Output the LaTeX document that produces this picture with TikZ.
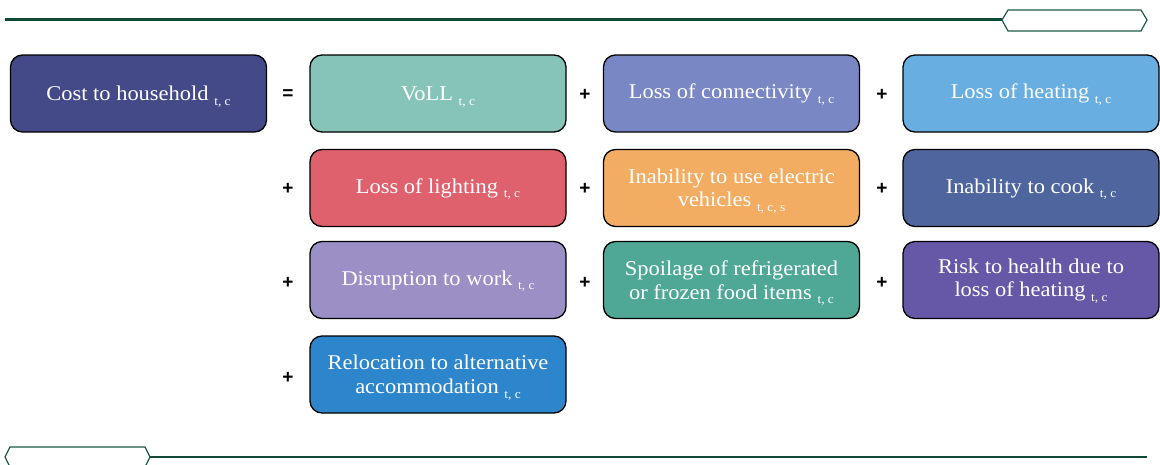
\documentclass[tikz,border=0pt]{standalone}
\usepackage{fontspec}
\setmainfont[FakeStretch=1.07]{Liberation Serif}
\newfontfamily\opfont{Liberation Sans}
% lowered index that does not change the size of its line
\newcommand{\subidx}[1]{\raisebox{-0.5ex}[0pt][0pt]{\fontsize{12.5}{13}\selectfont #1}}

\definecolor{rule}{HTML}{0E4A34}
\definecolor{tag}{HTML}{1E5C46}
\definecolor{cCost}{HTML}{434A87}
\definecolor{cVoll}{HTML}{86C4B8}
\definecolor{cConn}{HTML}{7987C4}
\definecolor{cHeat}{HTML}{69AEE0}
\definecolor{cLight}{HTML}{DE616D}
\definecolor{cEV}{HTML}{F2AD62}
\definecolor{cCook}{HTML}{4E659D}
\definecolor{cWork}{HTML}{9B8FC5}
\definecolor{cFood}{HTML}{4FA896}
\definecolor{cRisk}{HTML}{6658A6}
\definecolor{cReloc}{HTML}{2D86CC}

\tikzset{
  term/.style={draw=black, line width=1.3pt, rounded corners=12pt,
    minimum width=256pt, minimum height=77pt, align=center,
    text=white, font=\fontsize{21}{23.5}\selectfont, inner sep=2pt},
  op/.style={font=\opfont\bfseries\fontsize{19}{19}\selectfont, text=black, inner sep=0pt}
}

\begin{document}
\begin{tikzpicture}[x=1pt, y=-1pt]
\useasboundingbox (0,0) rectangle (1160,464);

% header rule with tag
\draw[rule, line width=2.2pt] (5,19.5) -- (1002,19.5);
\draw[tag, line width=1.2pt, fill=white] (1002,20) -- (1008,10) -- (1141,10) -- (1147,20) -- (1141,31) -- (1008,31) -- cycle;

% footer rule with tag
\draw[rule, line width=2.2pt] (150,457) -- (1147,457);
\draw[tag, line width=1.2pt, fill=white] (5,457) -- (10,447) -- (145,447) -- (150,457) -- (145,467) -- (10,467) -- cycle;

% left-hand side
\node[term, fill=cCost] (cost) at (138.5,93.5) {Cost to household \subidx{t, c}};
\node[op] (eq) at (288,95) {=};

% row 1
\node[term, fill=cVoll] (voll) at (438,93.5) {VoLL \subidx{t, c}};
\node[op] (p1) at (585,95) {+};
\node[term, fill=cConn] (conn) at (731.5,93.5) {Loss of connectivity \subidx{t, c}};
\node[op] (p2) at (882,95) {+};
\node[term, fill=cHeat] (heat) at (1031,93.5) {Loss of heating \subidx{t, c}};

% row 2
\node[op] (p3) at (288,189) {+};
\node[term, fill=cLight] (light) at (438,188) {Loss of lighting \subidx{t, c}};
\node[op] (p4) at (585,189) {+};
\node[term, fill=cEV] (ev) at (731.5,188) {Inability to use electric\\vehicles \subidx{t, c, s}};
\node[op] (p5) at (882,189) {+};
\node[term, fill=cCook] (cook) at (1031,188) {Inability to cook \subidx{t, c}};

% row 3
\node[op] (p6) at (288,283) {+};
\node[term, fill=cWork] (work) at (438,280) {Disruption to work \subidx{t, c}};
\node[op] (p7) at (585,283) {+};
\node[term, fill=cFood] (food) at (731.5,280) {Spoilage of refrigerated\\or frozen food items \subidx{t, c}};
\node[op] (p8) at (882,283) {+};
\node[term, fill=cRisk] (risk) at (1031,280) {Risk to health due to\\loss of heating \subidx{t, c}};

% row 4
\node[op] (p9) at (288,378) {+};
\node[term, fill=cReloc] (reloc) at (438,374.5) {Relocation to alternative\\accommodation \subidx{t, c}};
\end{tikzpicture}
\end{document}
